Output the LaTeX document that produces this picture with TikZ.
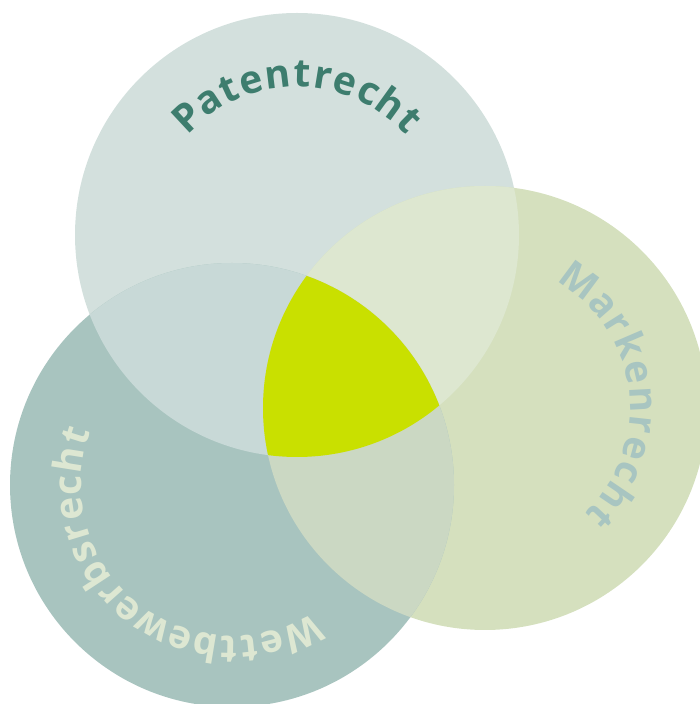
\documentclass[tikz,border=0pt]{standalone}
\usepackage{fontspec}
\setmainfont{Open Sans}
\usetikzlibrary{decorations.text}
\definecolor{cTop}{HTML}{D3E0DD}
\definecolor{cRight}{HTML}{D5E0BE}
\definecolor{cBL}{HTML}{A8C4BF}
\definecolor{cTR}{HTML}{DDE7D0}
\definecolor{cTB}{HTML}{C8D9D7}
\definecolor{cRB}{HTML}{CBD8C3}
\definecolor{cAll}{HTML}{C9E000}
\definecolor{cPat}{HTML}{3D7D6E}
\definecolor{cMark}{HTML}{A8C5C1}
\definecolor{cWett}{HTML}{DDE7D2}
\tikzset{
  ring/.style={radius=222},
  arctext/.style 2 args={decorate, decoration={text effects along path, text={#1},
    text effects/.cd, fit text to path,
    every character/.style={font=\bfseries\fontsize{39}{39}\selectfont, text=#2, anchor=base, transform shape}}}
}
\begin{document}
\begin{tikzpicture}[x=1pt,y=1pt]
\useasboundingbox (0,0) rectangle (699,704);
\coordinate (T) at (297,469);
\coordinate (R) at (485,296);
\coordinate (B) at (232,219);
\fill[cTop] (T) circle[ring];
\fill[cRight] (R) circle[ring];
\fill[cBL] (B) circle[ring];
\begin{scope}
  \clip (T) circle[ring];
  \fill[cTR] (R) circle[ring];
  \fill[cTB] (B) circle[ring];
\end{scope}
\begin{scope}
  \clip (R) circle[ring];
  \fill[cRB] (B) circle[ring];
\end{scope}
\begin{scope}
  \clip (T) circle[ring];
  \clip (R) circle[ring];
  \fill[cAll] (B) circle[ring];
\end{scope}
\path[arctext={Patentrecht}{cPat}] (T) ++(139:148) arc[start angle=139, end angle=41, radius=148];
\path[arctext={Markenrecht}{cMark}] (R) ++(62:145) arc[start angle=62, end angle=-48, radius=145];
\path[arctext={Wettbewerbsrecht}{cWett}] (B) ++(304:151) arc[start angle=304, end angle=158, radius=151];
\end{tikzpicture}
\end{document}
